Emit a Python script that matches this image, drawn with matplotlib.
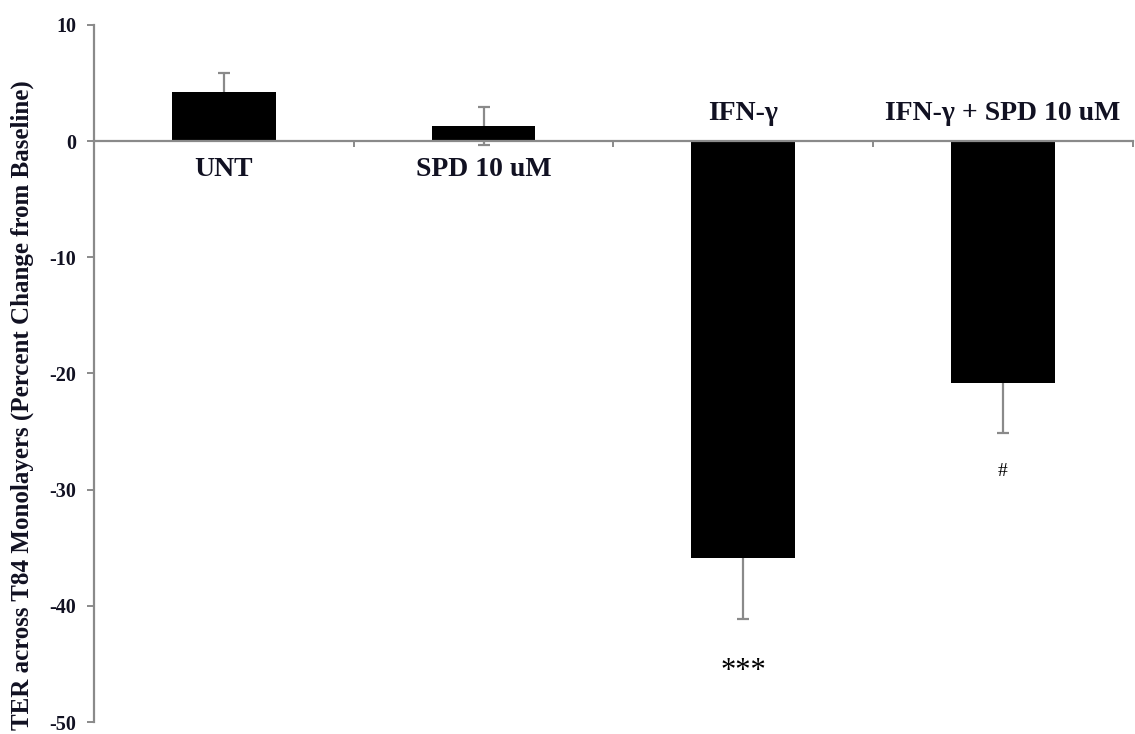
import matplotlib
matplotlib.use("Agg")
import matplotlib.pyplot as plt

# TER change per treatment group
groups = ["UNT", "SPD 10 uM", "IFN-\u03b3", "IFN-\u03b3 + SPD 10 uM"]
means = [4.2, 1.3, -35.9, -20.8]
errors = [1.65, 1.6, 5.2, 4.3]
marks = ["", "", "***", "#"]
yticks = [10, 0, -10, -20, -30, -40, -50]

SERIF = "Liberation Serif"
AXIS_GRAY = "#8a8a8a"
TEXT = "#111122"

fig = plt.figure(figsize=(11.35, 7.34), dpi=100)
ax = fig.add_axes([0.0828, 0.0163, 0.9152, 0.9497])

x = list(range(len(groups)))
ax.bar(x, means, width=0.4, color="black", zorder=2)
ax.errorbar(x, means, yerr=errors, fmt="none", ecolor=AXIS_GRAY,
            elinewidth=1.6, capsize=4, capthick=1.6, zorder=1)

ax.set_xlim(-0.5, len(groups) - 0.5)
ax.set_ylim(-50, 10)

# spines: left axis plus a horizontal axis through zero
for side in ("top", "right"):
    ax.spines[side].set_visible(False)
ax.spines["bottom"].set_position(("data", 0))
for side in ("left", "bottom"):
    ax.spines[side].set_color(AXIS_GRAY)
    ax.spines[side].set_linewidth(1.6)

ax.set_yticks(yticks)
ax.set_yticklabels([str(v) for v in yticks], fontfamily=SERIF,
                   fontweight="bold", fontsize=14.5, color=TEXT)
ax.tick_params(axis="y", direction="out", length=5, width=1.4,
               color=AXIS_GRAY, pad=8)

bounds = [i - 0.5 for i in range(len(groups) + 1)]
ax.set_xticks(bounds)
ax.set_xticklabels([])
ax.tick_params(axis="x", direction="out", length=4, width=1.4,
               color=AXIS_GRAY)

ax.set_ylabel("TER across T84 Monolayers (Percent Change from Baseline)",
              fontfamily=SERIF, fontweight="bold", fontsize=18, color=TEXT)
ax.yaxis.set_label_coords(-0.058, 0.455)

# group names sit on the opposite side of the bar across the zero line
for xi, name, m in zip(x, groups, means):
    y = -2.4 if m >= 0 else 2.35
    ax.text(xi, y, name, ha="center", va="center", fontfamily=SERIF,
            fontweight="bold", fontsize=20, color=TEXT)

# significance marks below the error bars
for xi, m, e, mk in zip(x, means, errors, marks):
    if not mk:
        continue
    if mk == "***":
        ax.annotate(mk, xy=(xi, m - e), xytext=(0, -38),
                    textcoords="offset points", ha="center", va="center",
                    fontfamily=SERIF, fontsize=22, color="black")
    else:
        ax.annotate(mk, xy=(xi, m - e), xytext=(0, -28),
                    textcoords="offset points", ha="center", va="center",
                    fontfamily=SERIF, fontsize=14, color="black")

fig.savefig("out.png", dpi=100)
